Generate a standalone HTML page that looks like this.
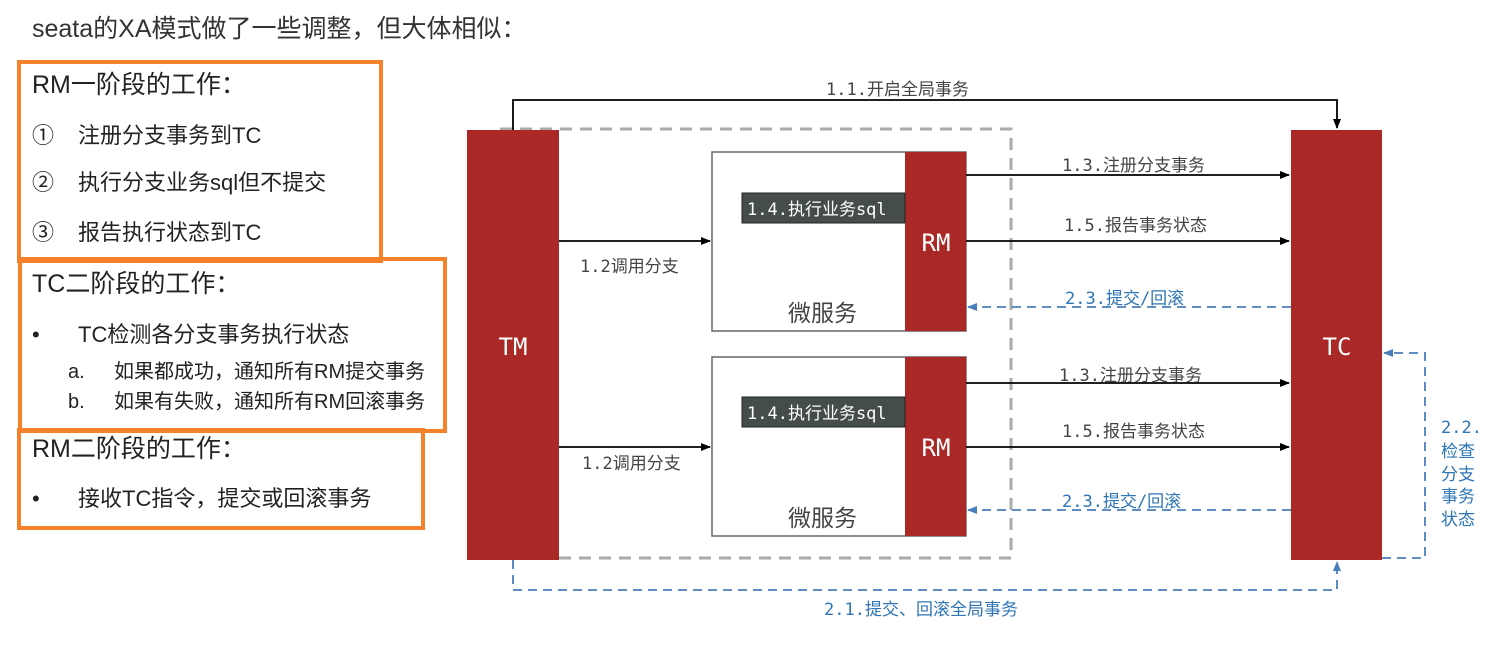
<!DOCTYPE html>
<html><head><meta charset="utf-8"><style>
body{margin:0;width:1503px;height:646px;background:#fff;overflow:hidden;position:relative;font-family:"Liberation Sans","Noto Sans CJK SC",sans-serif;color:#222}
.t{position:absolute;white-space:nowrap;line-height:1}
.box{position:absolute;border:4px solid #f5822a;box-sizing:border-box;background:transparent}
</style></head><body>
<div class="t" style="left:32px;top:17px;font-size:25px;color:#333">seata的XA模式做了一些调整，但大体相似：</div>

<div class="box" style="left:17px;top:60px;width:366px;height:203px"></div>
<div class="box" style="left:18px;top:257px;width:429px;height:176px"></div>
<div class="box" style="left:17px;top:428px;width:408px;height:102px"></div>

<div class="t" style="left:32px;top:73px;font-size:25px">RM一阶段的工作：</div>
<div class="t" style="left:32px;top:125px;font-size:22px">①</div><div class="t" style="left:78px;top:125px;font-size:22px">注册分支事务到TC</div>
<div class="t" style="left:32px;top:172px;font-size:22px">②</div><div class="t" style="left:78px;top:172px;font-size:22px">执行分支业务sql但不提交</div>
<div class="t" style="left:32px;top:222px;font-size:22px">③</div><div class="t" style="left:78px;top:222px;font-size:22px">报告执行状态到TC</div>
<div class="t" style="left:32px;top:272px;font-size:25px">TC二阶段的工作：</div>
<div class="t" style="left:32px;top:324px;font-size:22px">•</div>
<div class="t" style="left:78px;top:324px;font-size:22px">TC检测各分支事务执行状态</div>
<div class="t" style="left:68px;top:362px;font-size:20px">a.</div>
<div class="t" style="left:114px;top:362px;font-size:20px">如果都成功，通知所有RM提交事务</div>
<div class="t" style="left:68px;top:392px;font-size:20px">b.</div>
<div class="t" style="left:114px;top:392px;font-size:20px">如果有失败，通知所有RM回滚事务</div>
<div class="t" style="left:32px;top:437px;font-size:25px">RM二阶段的工作：</div>
<div class="t" style="left:32px;top:488px;font-size:22px">•</div>
<div class="t" style="left:78px;top:488px;font-size:22px">接收TC指令，提交或回滚事务</div>

<svg style="position:absolute;left:0;top:0" width="1503" height="646">
<defs>
<marker id="a" markerWidth="10" markerHeight="8" refX="9" refY="4" orient="auto" markerUnits="userSpaceOnUse"><path d="M0,0L10,4L0,8z" fill="#000"/></marker>
<marker id="bl" markerWidth="10" markerHeight="8" refX="9" refY="4" orient="auto" markerUnits="userSpaceOnUse"><path d="M0,0L10,4L0,8z" fill="#4a7ebb"/></marker>
</defs>
<rect x="500" y="129" width="511" height="429" fill="none" stroke="#aaa" stroke-width="3" stroke-dasharray="12,8"/>
<rect x="467" y="130" width="92" height="430" fill="#aa2927"/>
<rect x="1291" y="130" width="91" height="430" fill="#aa2927"/>
<rect x="712" y="152" width="254" height="179" fill="#fff" stroke="#666" stroke-width="1.5"/>
<rect x="905" y="152" width="61" height="179" fill="#aa2927"/>
<rect x="712" y="357" width="254" height="179" fill="#fff" stroke="#666" stroke-width="1.5"/>
<rect x="905" y="357" width="61" height="179" fill="#aa2927"/>
<rect x="742" y="193" width="163" height="30" fill="#454d4b" stroke="#222"/>
<rect x="742" y="397" width="163" height="30" fill="#454d4b" stroke="#222"/>
<g stroke="#000" stroke-width="1.8" fill="none">
<path d="M513,130V100H1337V128" marker-end="url(#a)"/>
<path d="M559,241H710" marker-end="url(#a)"/>
<path d="M559,447H710" marker-end="url(#a)"/>
<path d="M966,175H1289" marker-end="url(#a)"/>
<path d="M966,241H1289" marker-end="url(#a)"/>
<path d="M966,383H1289" marker-end="url(#a)"/>
<path d="M966,447H1289" marker-end="url(#a)"/>
</g>
<g stroke="#4a7ebb" stroke-width="1.8" fill="none" stroke-dasharray="9,6">
<path d="M1291,307H968" marker-end="url(#bl)"/>
<path d="M1291,510H968" marker-end="url(#bl)"/>
<path d="M513,560V590H1337V562" marker-end="url(#bl)"/>
<path d="M1382,558H1425V353H1384" marker-end="url(#bl)"/>
</g>
<g fill="#fff" font-size="24" font-family="DejaVu Sans Mono,Liberation Mono,monospace">
<text x="513" y="355" text-anchor="middle">TM</text>
<text x="1337" y="355" text-anchor="middle">TC</text>
<text x="936" y="251" text-anchor="middle">RM</text>
<text x="936" y="456" text-anchor="middle">RM</text>
</g>
<g font-family="DejaVu Sans Mono,Liberation Mono,Noto Sans CJK SC,monospace" font-size="17">
<text x="747" y="215" fill="#fff">1.4.执行业务sql</text>
<text x="747" y="419" fill="#fff">1.4.执行业务sql</text>
<text x="826" y="95" fill="#444">1.1.开启全局事务</text>
<text x="580" y="272" fill="#444">1.2调用分支</text>
<text x="582" y="469" fill="#444">1.2调用分支</text>
<text x="1062" y="171" fill="#444">1.3.注册分支事务</text>
<text x="1064" y="231" fill="#444">1.5.报告事务状态</text>
<text x="1059" y="381" fill="#444">1.3.注册分支事务</text>
<text x="1062" y="437" fill="#444">1.5.报告事务状态</text>
<text x="1065" y="304" fill="#2e75b6">2.3.提交/回滚</text>
<text x="1062" y="507" fill="#2e75b6">2.3.提交/回滚</text>
<text x="824" y="615" fill="#2e75b6">2.1.提交、回滚全局事务</text>
<text x="1441" y="433" fill="#2e75b6">2.2.</text>
<text x="1441" y="457" fill="#2e75b6">检查</text>
<text x="1441" y="480" fill="#2e75b6">分支</text>
<text x="1441" y="502" fill="#2e75b6">事务</text>
<text x="1441" y="525" fill="#2e75b6">状态</text>
</g>
<g font-family="Liberation Sans,Noto Sans CJK SC,sans-serif" font-size="23" fill="#444">
<text x="788" y="321">微服务</text>
<text x="788" y="526">微服务</text>
</g>
</svg>
</body></html>
